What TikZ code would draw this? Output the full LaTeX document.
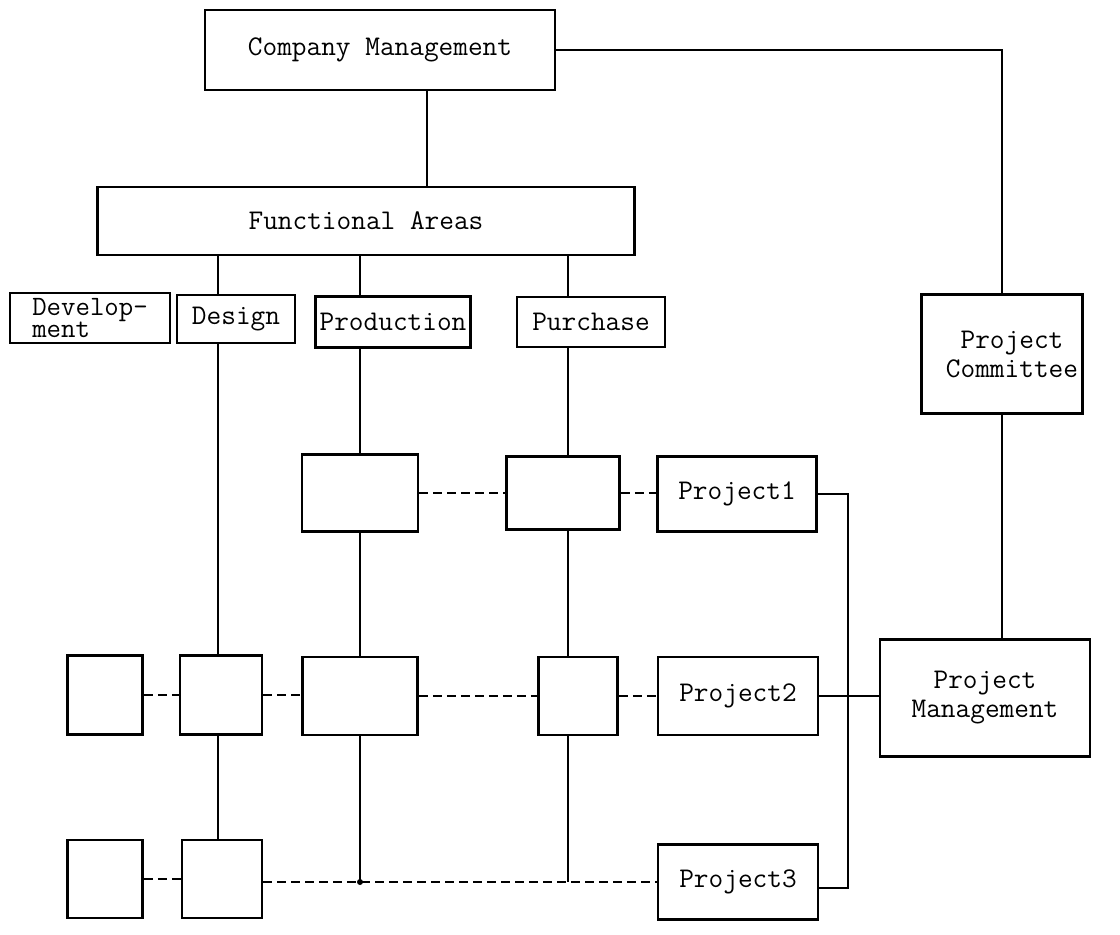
\documentclass[tikz,border=0pt]{standalone}
\usepackage{fontspec}
\newcommand\tw{\ttfamily}
\begin{document}
\begin{tikzpicture}[x=1pt,y=-1pt,
  box/.style={draw, line width=2.8pt, align=center, inner sep=0pt,
    font=\tw\fontsize{28.5}{29}\selectfont},
  conn/.style={line width=1.7pt},
  dconn/.style={line width=2.8pt, dash pattern=on 9pt off 5pt},
  dot/.style={circle, fill, inner sep=0pt, minimum size=6pt}]
\useasboundingbox (0,0) rectangle (1120,935);
% top
\node[box, minimum width=350pt, minimum height=80pt] (cm) at (380,50) {Company Management};
\node[box, minimum width=537pt, minimum height=68pt] (fa) at (366,221) {Functional Areas};
% functional boxes
\node[box, minimum width=160pt, minimum height=50pt, align=left,
  font=\tw\fontsize{28}{20}\selectfont] (dev) at (90,318) {Develop-\\ment};
\node[box, minimum width=118pt, minimum height=48pt] (des) at (236,319) {Design};
\node[box, minimum width=155pt, minimum height=51pt] (prod) at (393,322) {Production};
\node[box, minimum width=148pt, minimum height=50pt] (pur) at (591,322) {Purchase};
\node[box, minimum width=161pt, minimum height=119pt, text width=161pt] (pc) at (1002,354) {\hspace*{20pt}Project\\\hspace*{20pt}Committee};
% row 1
\node[box, minimum width=116pt, minimum height=77pt] (r1a) at (360,493) {};
\node[box, minimum width=113pt, minimum height=73pt] (r1b) at (563,493) {};
\node[box, minimum width=159pt, minimum height=75pt] (p1) at (737,494) {Project1};
% row 2
\node[box, minimum width=75pt, minimum height=79pt] (r2a) at (105,695) {};
\node[box, minimum width=82pt, minimum height=79pt] (r2b) at (221,695) {};
\node[box, minimum width=115pt, minimum height=78pt] (r2c) at (360,696) {};
\node[box, minimum width=79pt, minimum height=78pt] (r2d) at (578,696) {};
\node[box, minimum width=160pt, minimum height=78pt] (p2) at (738,696) {Project2};
\node[box, minimum width=210pt, minimum height=117pt] (pm) at (985,698) {Project\\Management};
% row 3
\node[box, minimum width=75pt, minimum height=78pt] (r3a) at (105,879) {};
\node[box, minimum width=80pt, minimum height=78pt] (r3b) at (222,879) {};
\node[box, minimum width=160pt, minimum height=75pt] (p3) at (738,882) {Project3};
% junction coordinates
\coordinate (jprod) at (360,882);
\coordinate (jpur) at (568,882);
% solid connectors
\draw[conn] (427,0 |- cm.south) -- (427,0 |- fa.north);
\draw[conn] (cm.east) -- (1002,0 |- cm.east) -- (pc.north);
\draw[conn] (218,0 |- fa.south) -- (218,0 |- des.north);
\draw[conn] (360,0 |- fa.south) -- (360,0 |- prod.north);
\draw[conn] (568,0 |- fa.south) -- (568,0 |- pur.north);
\draw[conn] (218,0 |- des.south) -- (218,0 |- r2b.north);
\draw[conn] (218,0 |- r2b.south) -- (218,0 |- r3b.north);
\draw[conn] (360,0 |- prod.south) -- (r1a.north);
\draw[conn] (r1a.south) -- (r2c.north);
\draw[conn] (r2c.south) -- (jprod);
\draw[conn] (568,0 |- pur.south) -- (568,0 |- r1b.north);
\draw[conn] (568,0 |- r1b.south) -- (568,0 |- r2d.north);
\draw[conn] (568,0 |- r2d.south) -- (jpur);
\draw[conn] (pc.south) -- (1002,0 |- pm.north);
\draw[conn] (p2.east) -- (p2.east -| pm.west);
\draw[conn] (p1.east) -- (848,0 |- p1.east) -- (848,888) -- (p3.east |- 0,888);
% dashed connectors
\draw[dconn] (r1a.east) -- (r1a.east -| r1b.west);
\draw[dconn] (r1b.east) -- (r1b.east -| p1.west);
\draw[dconn] (r2a.east) -- (r2a.east -| r2b.west);
\draw[dconn] (r2b.east) -- (r2b.east -| r2c.west);
\draw[dconn] (r2c.east) -- (r2c.east -| r2d.west);
\draw[dconn] (r2d.east) -- (r2d.east -| p2.west);
\draw[dconn] (r3a.east) -- (r3a.east -| r3b.west);
\draw[dconn] (r3b.east |- jprod) -- (jprod) -- (jpur) -- (jprod -| p3.west);
\node[dot] (jd) at (jprod) {};
\end{tikzpicture}
\end{document}
